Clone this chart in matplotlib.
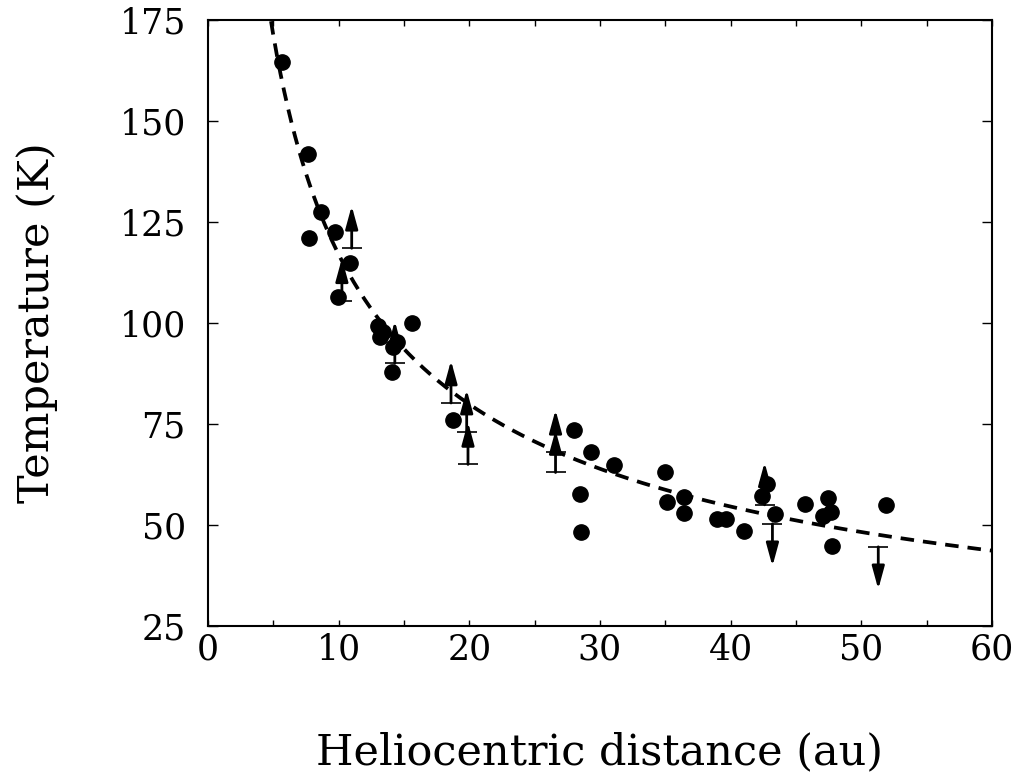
import numpy as np
import matplotlib
matplotlib.use("Agg")
import matplotlib.pyplot as plt

# Measured temperatures (detections)
r_det = [5.66, 7.65, 7.73, 8.65, 9.72, 10.87, 9.95, 13.0, 13.4, 13.16, 14.46, 14.16,
         15.61, 14.08, 18.75, 28.0, 28.47, 28.55, 29.3, 31.07, 34.97, 35.13, 36.43,
         36.43, 38.95, 39.64, 41.0, 42.4, 42.8, 43.4, 45.7, 47.45, 47.1, 47.7, 47.75, 51.9]
t_det = [164.6, 141.8, 121.0, 127.5, 122.5, 114.9, 106.4, 99.2, 97.8, 96.5, 95.3, 94.1,
         100.0, 87.9, 76.0, 73.5, 57.7, 48.3, 68.1, 64.9, 63.1, 55.7, 56.9,
         53.0, 51.5, 51.5, 48.5, 57.2, 60.1, 52.7, 55.2, 56.7, 52.2, 53.2, 44.8, 55.0]

# Lower limits (arrows pointing up)
r_low = [10.25, 11.0, 14.3, 18.6, 19.8, 19.9, 26.6, 26.6, 42.6]
t_low = [105.5, 118.5, 90.0, 80.2, 73.0, 65.0, 63.0, 68.0, 55.0]

# Upper limits (arrows pointing down)
r_up = [43.2, 51.3]
t_up = [50.3, 44.6]

# Power-law fit T = A * r^-p
FIT_A = 415.0
FIT_P = 0.55
ARROW_LEN = 10.5

plt.rcParams['font.family'] = ['DejaVu Serif']
plt.rcParams['font.size'] = 25

fig = plt.figure(figsize=(10.24, 7.8), dpi=100)
ax = fig.add_axes([0.2031, 0.1974, 0.7656, 0.7770])

r_fit = np.linspace(4.0, 60.0, 400)
ax.plot(r_fit, FIT_A * r_fit ** (-FIT_P), '--', color='black', lw=2.7, dashes=(3.6, 2.4))

ax.plot(r_det, t_det, 'o', color='black', ms=11)

# limits: cap at the value, arrow pointing away from it
arrow_style = dict(arrowstyle='-|>,head_length=0.55,head_width=0.15', color='black',
                   lw=2.0, shrinkA=0, shrinkB=0)
for r_lim, t_lim, sign in [(r_low, t_low, 1), (r_up, t_up, -1)]:
    ax.plot(r_lim, t_lim, '_', color='black', ms=14, mew=1.2)
    for r, t in zip(r_lim, t_lim):
        ax.annotate('', xy=(r, t + sign * ARROW_LEN), xytext=(r, t), arrowprops=arrow_style)

ax.set_xlim(0, 60)
ax.set_ylim(25, 175)
ax.set_xticks([0, 10, 20, 30, 40, 50, 60])
ax.set_xticks(np.arange(0, 61, 5), minor=True)
ax.set_yticks([25, 50, 75, 100, 125, 150, 175])

ax.tick_params(axis='both', which='both', direction='in', top=True, right=True, width=1.0)
ax.tick_params(axis='x', which='both', length=4, pad=5)
ax.tick_params(axis='y', which='both', length=7, pad=16)

for s in ax.spines.values():
    s.set_linewidth(1.5)

ax.set_xlabel('Heliocentric distance (au)', fontsize=31, labelpad=46)
ax.set_ylabel('Temperature (K)', fontsize=31, labelpad=44)

fig.savefig('out.png', dpi=100)
